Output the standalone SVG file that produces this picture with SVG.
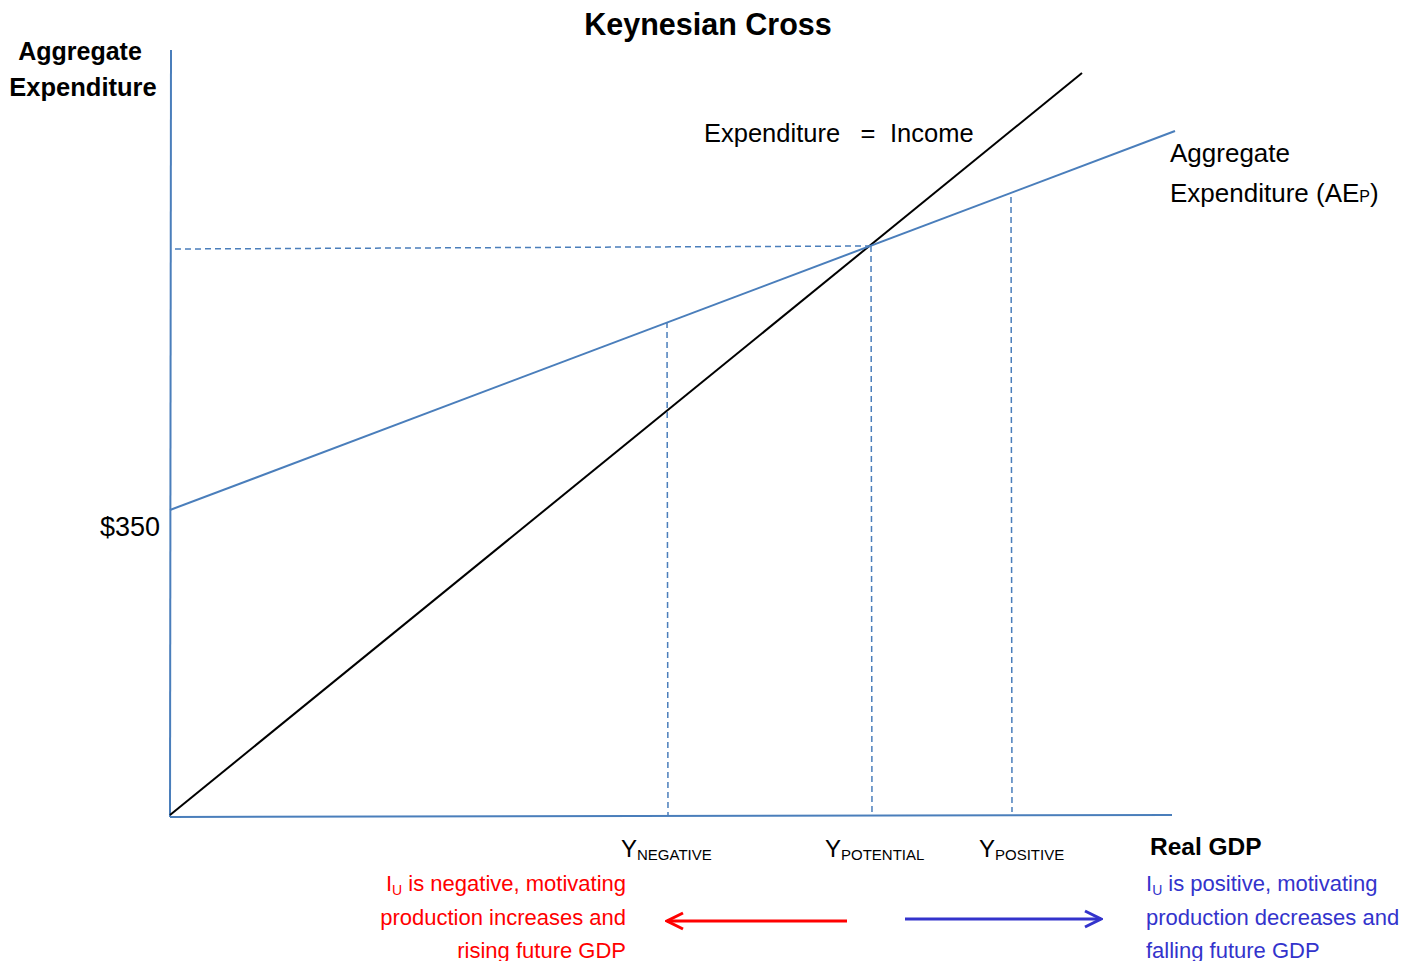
<svg xmlns="http://www.w3.org/2000/svg" width="1414" height="961" viewBox="0 0 1414 961">
<style>
text{font-family:"Liberation Sans",Arial,sans-serif;fill:#000}
.b{font-weight:bold}
.ax{stroke:#4a7ebb;stroke-width:2;fill:none}
.dash{stroke:#4a7ebb;stroke-width:1.5;stroke-dasharray:6,4;fill:none}
.red{fill:#ff0000}
.blu{fill:#3333cc}
</style>
<defs>
<marker id="ar" viewBox="0 0 20 20" refX="18" refY="10" markerWidth="20" markerHeight="20" markerUnits="userSpaceOnUse" orient="auto">
<path d="M2,2 L18,10 L2,18" fill="none" stroke="#ff0000" stroke-width="3"/>
</marker>
<marker id="ab" viewBox="0 0 20 20" refX="18" refY="10" markerWidth="20" markerHeight="20" markerUnits="userSpaceOnUse" orient="auto">
<path d="M2,2 L18,10 L2,18" fill="none" stroke="#3333cc" stroke-width="3"/>
</marker>
</defs>
<rect width="1414" height="961" fill="#fff"/>
<text x="708" y="35" text-anchor="middle" class="b" font-size="30.5">Keynesian Cross</text>
<g id="yaxis-label">
<text x="80" y="60" text-anchor="middle" class="b" font-size="25">Aggregate</text>
<text x="83" y="96" text-anchor="middle" class="b" font-size="25.5">Expenditure</text>
</g>
<g id="connectors">
<line class="ax" x1="171" y1="50" x2="170" y2="817"/>
<line class="ax" x1="170" y1="817" x2="1172" y2="815"/>
<line x1="170" y1="815" x2="1082" y2="73" stroke="#000" stroke-width="2"/>
<line class="ax" x1="170" y1="510" x2="1175" y2="131"/>
<line class="dash" x1="175" y1="249" x2="870" y2="246"/>
<line class="dash" x1="667" y1="322" x2="668" y2="815"/>
<line class="dash" x1="871" y1="246" x2="872" y2="815"/>
<line class="dash" x1="1011" y1="197" x2="1012" y2="812"/>
<line x1="847" y1="921" x2="667" y2="921" stroke="#ff0000" stroke-width="3" marker-end="url(#ar)"/>
<line x1="905" y1="919" x2="1101" y2="919" stroke="#3333cc" stroke-width="3" marker-end="url(#ab)"/>
</g>
<g id="labels">
<text x="704" y="142" font-size="25.5">Expenditure</text>
<text x="868" y="142" font-size="25.5" text-anchor="middle">=</text>
<text x="890" y="142" font-size="25.5">Income</text>
<text x="1170" y="162" font-size="26">Aggregate</text>
<text x="1170" y="202" font-size="26">Expenditure (AE<tspan font-size="16">P</tspan>)</text>
<text x="160" y="536" text-anchor="end" font-size="27">$350</text>
<text x="621" y="857" font-size="24">Y<tspan font-size="15" dy="3">NEGATIVE</tspan></text>
<text x="825" y="857" font-size="24">Y<tspan font-size="15" dy="3">POTENTIAL</tspan></text>
<text x="979" y="857" font-size="24">Y<tspan font-size="15" dy="3">POSITIVE</tspan></text>
<text x="1150" y="855" class="b" font-size="24.5">Real GDP</text>
</g>
<g id="note-negative">
<text x="626" y="891" text-anchor="end" font-size="22" class="red">I<tspan font-size="14" dy="4">U</tspan><tspan dy="-4"> is negative, motivating</tspan></text>
<text x="626" y="925" text-anchor="end" font-size="22" class="red">production increases and</text>
<text x="626" y="958" text-anchor="end" font-size="22" class="red">rising future GDP</text>
</g>
<g id="note-positive">
<text x="1146" y="891" font-size="22" class="blu">I<tspan font-size="14" dy="4">U</tspan><tspan dy="-4"> is positive, motivating</tspan></text>
<text x="1146" y="925" font-size="22" class="blu">production decreases and</text>
<text x="1146" y="958" font-size="22" class="blu">falling future GDP</text>
</g>
</svg>
